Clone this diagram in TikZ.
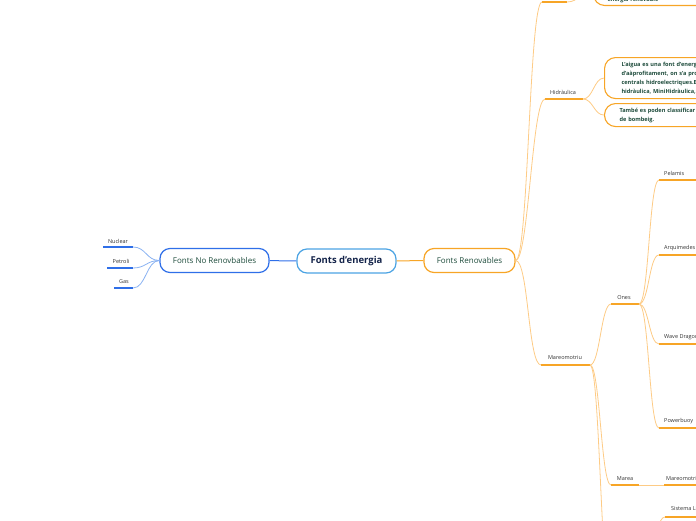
\documentclass[tikz,border=0pt]{standalone}
\usepackage{fontspec}
\setmainfont{Open Sans}
\definecolor{bblue}{HTML}{2F6FE8}
\definecolor{lblue}{HTML}{8AB2F2}
\definecolor{cblue}{HTML}{4BA3E3}
\definecolor{navy}{HTML}{14244A}
\definecolor{dgreen}{HTML}{1D4B3B}
\definecolor{org}{HTML}{F7A526}
\definecolor{lorg}{HTML}{FDCB85}
\definecolor{txt}{HTML}{333333}
\begin{document}
\begin{tikzpicture}[x=1pt,y=-1pt,
  bigbox/.style={draw, line width=1.2pt, rounded corners=10pt, minimum height=24pt, inner sep=2pt, text=dgreen, font=\fontsize{8}{9}\selectfont},
  txtbox/.style={draw=org, line width=1.1pt, rounded corners=11pt, anchor=north west, align=left, inner ysep=3pt, text=dgreen, font=\fontsize{5.6}{9}\selectfont\bfseries},
  lab/.style={text=txt, font=\fontsize{5.5}{6}\selectfont, inner sep=0pt},
  ul/.style={line width=1.8pt},
  bline/.style={lblue, line width=0.8pt},
  oline/.style={lorg, line width=0.8pt},
  link/.style={out=#1, in=180, distance=13pt},
  linkl/.style={out=180, in=0, distance=13pt}]
\useasboundingbox (0,0) rectangle (696,520);
\clip (0,0) rectangle (696,520);

% central nodes
\node[bigbox, draw=cblue, minimum width=99pt, text=navy, font=\fontsize{9.5}{10}\selectfont\bfseries] (root) at (346.5,261) {Fonts d'energia};
\node[bigbox, draw=bblue, minimum width=109pt] (nr) at (214.5,260.5) {Fonts No Renovbables};
\node[bigbox, draw=org, minimum width=91pt] (fr) at (469.5,260.5) {Fonts Renovables};
\draw[bblue, line width=1pt] (nr) -- (root);
\draw[org, line width=1pt] (root) -- (fr);

% non renewable leaves
\coordinate (nucL) at (103,247); \coordinate (nucR) at (133,247);
\coordinate (petL) at (107,268); \coordinate (petR) at (133,268);
\coordinate (gasL) at (114,288); \coordinate (gasR) at (133,288);
\node[lab] (nuc) at (118,241) {Nuclear};
\node[lab] (pet) at (121,261.5) {Petroli};
\node[lab] (gas) at (124,281.5) {Gas};
\draw[bblue, ul] (nucL) -- (nucR);
\draw[bblue, ul] (petL) -- (petR);
\draw[bblue, ul] (gasL) -- (gasR);
\draw[bline] (nr.west) to[linkl] (nucR);
\draw[bline] (nr.west) to[linkl] (petR);
\draw[bline] (nr.west) to[linkl] (gasR);

% renewable: top branch
\coordinate (topL) at (542,2); \coordinate (topR) at (567,2);
\draw[org, ul] (topL) -- (topR);
\node[txtbox, anchor=south west, text width=150pt, inner xsep=14pt] (topbox) at (593,6) {\vphantom{X}\\\vphantom{X}\\energia renovable};
\draw[oline] (fr.east) to[link=0] (topL);
\draw[oline] (topR) to[out=0,in=180,distance=12pt] (topbox.west);

% Hidraulica
\coordinate (hidL) at (545,99); \coordinate (hidR) at (583,99);
\node[lab] (hid) at (563,92) {Hidràulica};
\draw[org, ul] (hidL) -- (hidR);
\draw[oline] (fr.east) to[link=0] (hidL);
\node[txtbox, minimum height=41pt, inner xsep=17pt, text width=160pt] (hb1) at (604,57) {L'aigua es una font d'energia\\d'aàprofitament, on s'a profita\\centrals hidroelectriques.En\\hidràulica, MiniHidràulica,Micro};
\node[txtbox, minimum height=23pt, inner xsep=15pt, text width=160pt] (hb2) at (604,103) {També es poden classificar en\\de bombeig.};
\draw[oline] (hidR) to[out=0,in=180,distance=10pt] (hb1.west);
\draw[oline] (hidR) to[out=0,in=180,distance=10pt] (hb2.west);

% Mareomotriu
\coordinate (marL) at (541,365); \coordinate (marR) at (590,365);
\node[lab] (mar) at (565,357.5) {Mareomotriu};
\draw[org, ul] (marL) -- (marR);
\draw[oline] (fr.east) to[link=0] (marL);

% Ones
\coordinate (onL) at (611,304); \coordinate (onR) at (639,304);
\node[lab] (ones) at (624,297.5) {Ones};
\draw[org, ul] (onL) -- (onR);
\draw[oline] (marR) to[out=0,in=180,distance=10pt] (onL);

\foreach \nm/\txt/\y in {pel/Pelamis/180, arq/Arquimedes/255, wd/Wave Dragon/344, pb/Powerbuoy/428}{
  \coordinate (\nm L) at (659,\y); \coordinate (\nm R) at (720,\y);
  \node[lab, anchor=west] (\nm) at (664,\y-7) {\txt};
  \draw[org, ul] (\nm L) -- (\nm R);
  \draw[oline] (onR) to[out=0,in=180,distance=10pt] (\nm L);
}

% Marea
\coordinate (meaL) at (611,485); \coordinate (meaR) at (639,485);
\node[lab] (marea) at (625,478.5) {Marea};
\draw[org, ul] (meaL) -- (meaR);
\draw[oline] (marR) to[out=0,in=180,distance=10pt] (meaL);
\coordinate (m2L) at (664,485); \coordinate (m2R) at (720,485);
\node[lab, anchor=west] (m2) at (666,478.5) {Mareomotriu};
\draw[org, ul] (m2L) -- (m2R);
\draw[oline] (meaR) -- (m2L);

% branch below the picture
\coordinate (offL) at (611,600); \coordinate (offR) at (639,600);
\draw[oline] (marR) to[out=0,in=180,distance=10pt] (offL);
\coordinate (sisL) at (665,517); \coordinate (sisR) at (720,517);
\node[lab, anchor=west] (sis) at (671,509.5) {Sistema Limpet};
\draw[org, ul] (sisL) -- (sisR);
\draw[oline] (offR) to[out=0,in=180,distance=13pt] (sisL);
\end{tikzpicture}
\end{document}
